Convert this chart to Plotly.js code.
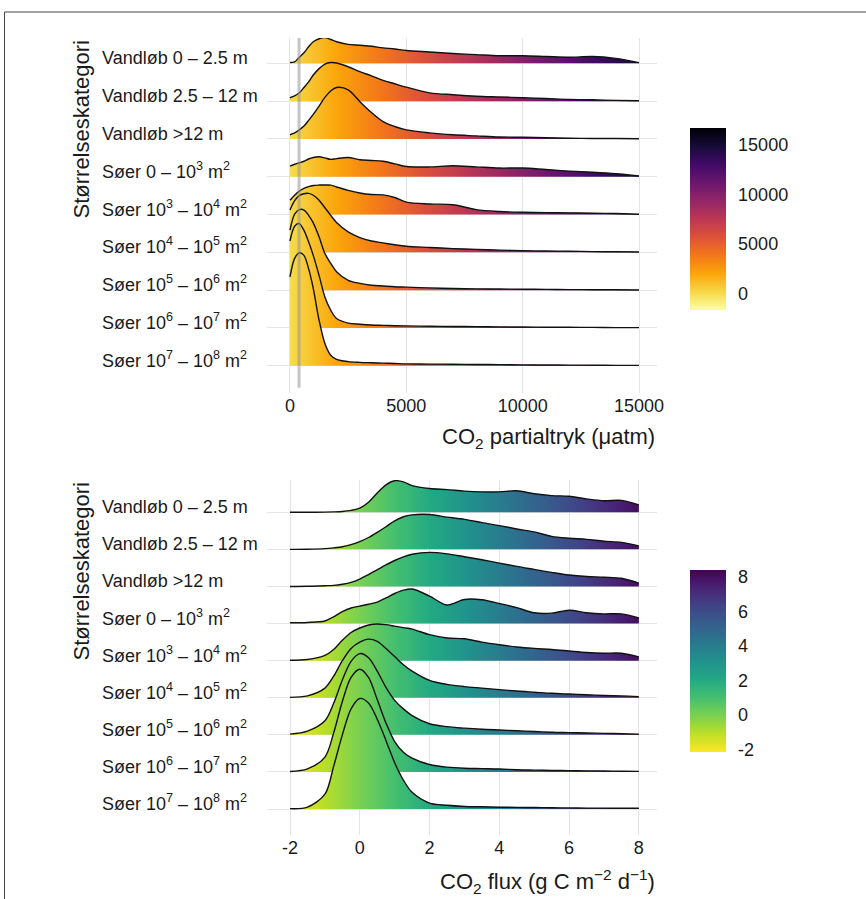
<!DOCTYPE html>
<html><head><meta charset="utf-8">
<script src="https://cdn.plot.ly/plotly-3.0.1.min.js"></script>
<style>html,body{margin:0;padding:0;background:#fff}#chart{width:866px;height:899px}</style>
</head><body><div id="chart"></div>
<script>
// ---------- data ----------
const categories = [
  'Vandløb 0 – 2.5 m',
  'Vandløb 2.5 – 12 m',
  'Vandløb >12 m',
  'Søer 0 – 10<sup>3</sup> m<sup>2</sup>',
  'Søer 10<sup>3</sup> – 10<sup>4</sup> m<sup>2</sup>',
  'Søer 10<sup>4</sup> – 10<sup>5</sup> m<sup>2</sup>',
  'Søer 10<sup>5</sup> – 10<sup>6</sup> m<sup>2</sup>',
  'Søer 10<sup>6</sup> – 10<sup>7</sup> m<sup>2</sup>',
  'Søer 10<sup>7</sup> – 10<sup>8</sup> m<sup>2</sup>'
];

// CO2 partial pressure (µatm) grid and ridge heights (scaled density)
const pco2X = [0,200,400,600,800,1000,1250,1500,1750,2000,2500,3000,3500,4000,4500,5000,6000,7000,8000,9000,10000,11000,12000,13000,14000,15000];
const pco2Vandlob0_2_5 = [0.02,0.04,0.16,0.28,0.44,0.57,0.65,0.68,0.63,0.57,0.50,0.48,0.45,0.41,0.38,0.34,0.30,0.26,0.23,0.20,0.20,0.18,0.16,0.18,0.13,0.02];
const pco2Vandlob2_5_12 = [0.09,0.14,0.22,0.36,0.51,0.69,0.86,0.98,1.02,1.01,0.91,0.78,0.67,0.55,0.46,0.37,0.22,0.17,0.13,0.11,0.09,0.07,0.045,0.035,0.02,0.01];
const pco2Vandlob12 = [0.11,0.16,0.24,0.34,0.49,0.65,0.87,1.10,1.27,1.36,1.30,0.99,0.70,0.46,0.33,0.24,0.16,0.11,0.08,0.05,0.045,0.03,0.02,0.01,0.01,0.005];
const pco2Soer0_3 = [0.28,0.33,0.37,0.41,0.47,0.51,0.53,0.50,0.46,0.48,0.51,0.45,0.43,0.41,0.34,0.27,0.26,0.29,0.26,0.23,0.23,0.19,0.15,0.12,0.08,0.02];
const pco2Soer3_4 = [0.38,0.51,0.62,0.69,0.74,0.77,0.78,0.78,0.78,0.73,0.64,0.57,0.53,0.52,0.45,0.33,0.28,0.26,0.13,0.08,0.06,0.05,0.045,0.035,0.026,0.01];
const pco2Soer4_5 = [1.12,1.37,1.50,1.55,1.56,1.51,1.38,1.18,0.98,0.79,0.54,0.39,0.30,0.25,0.20,0.16,0.13,0.10,0.08,0.06,0.045,0.035,0.03,0.02,0.015,0.01];
const pco2Soer5_6 = [1.59,2.01,2.13,2.12,1.98,1.78,1.41,0.97,0.71,0.49,0.26,0.18,0.13,0.11,0.09,0.08,0.06,0.045,0.035,0.03,0.025,0.02,0.015,0.012,0.01,0.005];
const pco2Soer6_7 = [2.30,2.69,2.76,2.58,2.28,1.92,1.39,0.82,0.47,0.25,0.13,0.10,0.08,0.07,0.06,0.055,0.045,0.04,0.035,0.03,0.025,0.02,0.018,0.015,0.01,0.008];
const pco2Soer7_8 = [2.35,2.84,2.99,2.92,2.57,2.05,1.21,0.59,0.28,0.17,0.11,0.09,0.08,0.07,0.06,0.05,0.045,0.04,0.035,0.03,0.025,0.02,0.018,0.015,0.012,0.01];

// CO2 flux (g C m-2 d-1) grid and ridge heights
const fluxX = [-2,-1.5,-1,-0.75,-0.5,-0.25,0,0.25,0.5,0.75,1,1.25,1.5,2,2.5,3,3.5,4,4.5,5,5.5,6,6.5,7,7.5,8];
const fluxVandlob0_2_5 = [0,0,0.005,0.01,0.02,0.05,0.11,0.27,0.52,0.74,0.85,0.82,0.72,0.64,0.61,0.57,0.55,0.55,0.58,0.50,0.45,0.43,0.36,0.31,0.32,0.20];
const fluxVandlob2_5_12 = [0,0.005,0.02,0.04,0.07,0.13,0.21,0.32,0.46,0.61,0.77,0.88,0.93,0.94,0.87,0.81,0.72,0.64,0.55,0.47,0.35,0.30,0.27,0.22,0.19,0.09];
const fluxVandlob12 = [0,0.005,0.02,0.03,0.06,0.11,0.20,0.32,0.45,0.58,0.70,0.80,0.87,0.92,0.88,0.80,0.72,0.63,0.54,0.46,0.38,0.31,0.27,0.25,0.22,0.09];
const fluxSoer0_3 = [0.02,0.03,0.07,0.18,0.32,0.42,0.47,0.52,0.58,0.69,0.81,0.90,0.93,0.74,0.50,0.65,0.64,0.54,0.43,0.29,0.28,0.36,0.29,0.26,0.26,0.15];
const fluxSoer3_4 = [0.01,0.03,0.14,0.30,0.55,0.76,0.88,0.96,0.99,0.97,0.93,0.89,0.85,0.70,0.61,0.59,0.50,0.43,0.37,0.33,0.30,0.26,0.22,0.20,0.20,0.10];
const fluxSoer4_5 = [0.01,0.05,0.26,0.58,1.00,1.33,1.50,1.58,1.52,1.33,1.11,0.89,0.72,0.47,0.36,0.30,0.26,0.22,0.18,0.15,0.12,0.10,0.08,0.06,0.05,0.03];
const fluxSoer5_6 = [0.02,0.10,0.38,0.85,1.48,1.98,2.19,2.08,1.72,1.28,0.93,0.70,0.52,0.30,0.22,0.18,0.15,0.13,0.11,0.09,0.07,0.06,0.05,0.04,0.03,0.02];
const fluxSoer6_7 = [0.01,0.08,0.40,1.05,1.90,2.55,2.77,2.55,1.95,1.32,0.82,0.53,0.37,0.20,0.13,0.10,0.09,0.08,0.06,0.05,0.04,0.035,0.03,0.025,0.02,0.015];
const fluxSoer7_8 = [0.01,0.05,0.40,1.15,2.00,2.70,2.98,2.86,2.42,1.85,1.25,0.78,0.45,0.16,0.10,0.07,0.06,0.05,0.045,0.04,0.035,0.03,0.025,0.025,0.02,0.02];

const pco2Ticks = [0, 5000, 10000, 15000];
const fluxTicks = [-2, 0, 2, 4, 6, 8];
const pco2ColorTicks = [0, 5000, 10000, 15000];
const fluxColorTicks = [-2, 0, 2, 4, 6, 8];
const pco2Limits = [-1650, 16700];
const fluxLimits = [-2.14, 8.39];
const atmPCO2 = 390;

// ---------- styles ----------
const infernoRev = [[0,'#fcffa4'],[0.1,'#f6d746'],[0.2,'#fca50a'],[0.3,'#f37819'],[0.4,'#dd513a'],[0.5,'#bc3754'],[0.6,'#932667'],[0.7,'#6a176e'],[0.8,'#420a68'],[0.9,'#160b39'],[1,'#000004']];
const viridisRev = [[0,'#fde725'],[0.1,'#bddf26'],[0.2,'#7ad151'],[0.3,'#44bf70'],[0.4,'#22a884'],[0.5,'#21918c'],[0.6,'#2a788e'],[0.7,'#355f8d'],[0.8,'#414487'],[0.9,'#482475'],[1,'#440154']];

const pco2Series = [pco2Vandlob0_2_5, pco2Vandlob2_5_12, pco2Vandlob12, pco2Soer0_3, pco2Soer3_4, pco2Soer4_5, pco2Soer5_6, pco2Soer6_7, pco2Soer7_8];
const fluxSeries = [fluxVandlob0_2_5, fluxVandlob2_5_12, fluxVandlob12, fluxSoer0_3, fluxSoer3_4, fluxSoer4_5, fluxSoer5_6, fluxSoer6_7, fluxSoer7_8];

const FONT = 'Liberation Sans, Arial, Helvetica, sans-serif';
const TXT = '#1a1a1a';
const GRID = '#e4e4e4';
const W = 866, H = 899;
const traces = [];

function addPanel(xs, series, xa, ya, cs, lim) {
  const n = categories.length;
  series.forEach((h, i) => {
    const base = n - i;
    traces.push({type:'scatter', x:[xs[0], xs[xs.length-1]], y:[base, base], mode:'lines',
      line:{width:0, color:'rgba(0,0,0,0)'}, xaxis:xa, yaxis:ya, hoverinfo:'skip', showlegend:false});
    traces.push({type:'scatter', x:xs, y:h.map(v => base + v), mode:'lines', fill:'tonexty',
      fillgradient:{type:'horizontal', colorscale:cs, start:lim[0], stop:lim[1]},
      line:{color:'#111', width:1.4, shape:'spline', smoothing:0.9},
      xaxis:xa, yaxis:ya, hoverinfo:'skip', showlegend:false});
  });
}
addPanel(pco2X, pco2Series, 'x', 'y', infernoRev, pco2Limits);
addPanel(fluxX, fluxSeries, 'x2', 'y2', viridisRev, fluxLimits);

function colorbarTrace(xs, xa, ya, cs, lim, ticks, yc) {
  return {type:'scatter', x:[xs[0]], y:[1], mode:'markers', xaxis:xa, yaxis:ya, hoverinfo:'skip', showlegend:false,
    marker:{size:1, opacity:0, color:[lim[0]], cmin:lim[0], cmax:lim[1], colorscale:cs, showscale:true,
      colorbar:{x:690/W, xanchor:'left', xpad:0, ypad:0, y:yc, yanchor:'middle', lenmode:'pixels', len:182,
        thicknessmode:'pixels', thickness:36, outlinewidth:0, ticks:'outside', ticklen:9, tickcolor:'rgba(0,0,0,0)',
        tickvals:ticks, ticktext:ticks.map(String), tickfont:{family:FONT, size:18, color:TXT}}}};
}
traces.push(colorbarTrace(pco2X, 'x', 'y', infernoRev, pco2Limits, pco2ColorTicks, 1 - 219/H));
traces.push(colorbarTrace(fluxX, 'x2', 'y2', viridisRev, fluxLimits, fluxColorTicks, 1 - 661/H));

const xDom = [267/W, 657/W];
const ax = (extra) => Object.assign({showgrid:true, gridcolor:GRID, gridwidth:1, zeroline:false, showline:false, ticks:'',
  tickfont:{family:FONT, size:18, color:TXT}}, extra);

const annotations = [];
categories.forEach((c, i) => {
  ['y', 'y2'].forEach(yr => {
    annotations.push({xref:'paper', x:100/W, xanchor:'left', yref:yr, y:categories.length - i, yanchor:'bottom', yshift:-7,
      text:c, showarrow:false, font:{family:FONT, size:18, color:TXT}});
  });
});
annotations.push({xref:'paper', yref:'paper', x:81/W, y:1 - 38/H, xanchor:'center', yanchor:'top', textangle:-90,
  text:'Størrelseskategori', showarrow:false, font:{family:FONT, size:22, color:TXT}});
annotations.push({xref:'paper', yref:'paper', x:81/W, y:1 - 480/H, xanchor:'center', yanchor:'top', textangle:-90,
  text:'Størrelseskategori', showarrow:false, font:{family:FONT, size:22, color:TXT}});
annotations.push({xref:'paper', yref:'paper', x:657/W, y:1 - 438/H, xanchor:'right', yanchor:'middle',
  text:'CO<sub>2</sub> partialtryk (μatm)', showarrow:false, font:{family:FONT, size:22, color:TXT}});
annotations.push({xref:'paper', yref:'paper', x:657/W, y:1 - 881/H, xanchor:'right', yanchor:'middle',
  text:'CO<sub>2</sub> flux (g C m<sup>−2</sup> d<sup>−1</sup>)', showarrow:false, font:{family:FONT, size:22, color:TXT}});

const layout = {
  width:W, height:H, margin:{l:0, r:0, t:0, b:0, autoexpand:false},
  paper_bgcolor:'#fff', plot_bgcolor:'#fff', showlegend:false,
  font:{family:FONT, color:TXT},
  xaxis: ax({domain:xDom, range:[-988, 15773], anchor:'y', tickvals:pco2Ticks, ticktext:pco2Ticks.map(String)}),
  yaxis: ax({domain:[1 - 393/H, 1 - 38/H], range:[0.28, 9.67], anchor:'x', tickvals:[1,2,3,4,5,6,7,8,9], showticklabels:false}),
  xaxis2: ax({domain:xDom, range:[-2.66, 8.52], anchor:'y2', tickvals:fluxTicks, ticktext:fluxTicks.map(String)}),
  yaxis2: ax({domain:[1 - 835/H, 1 - 480/H], range:[0.30, 9.87], anchor:'x2', tickvals:[1,2,3,4,5,6,7,8,9], showticklabels:false}),
  shapes:[
    {type:'line', xref:'x', yref:'y domain', x0:atmPCO2, x1:atmPCO2, y0:0.015, y1:1, layer:'above',
      line:{color:'rgba(150,150,150,0.55)', width:3}},
    {type:'line', xref:'paper', yref:'paper', x0:4.5/W, x1:1.01, y0:1 - 12/H, y1:1 - 12/H, line:{color:'#444', width:1}},
    {type:'line', xref:'paper', yref:'paper', x0:4.5/W, x1:4.5/W, y0:-0.01, y1:1 - 12/H, line:{color:'#444', width:1}}
  ],
  annotations: annotations
};

Plotly.newPlot('chart', traces, layout, {displayModeBar:false, staticPlot:true});
</script></body></html>
